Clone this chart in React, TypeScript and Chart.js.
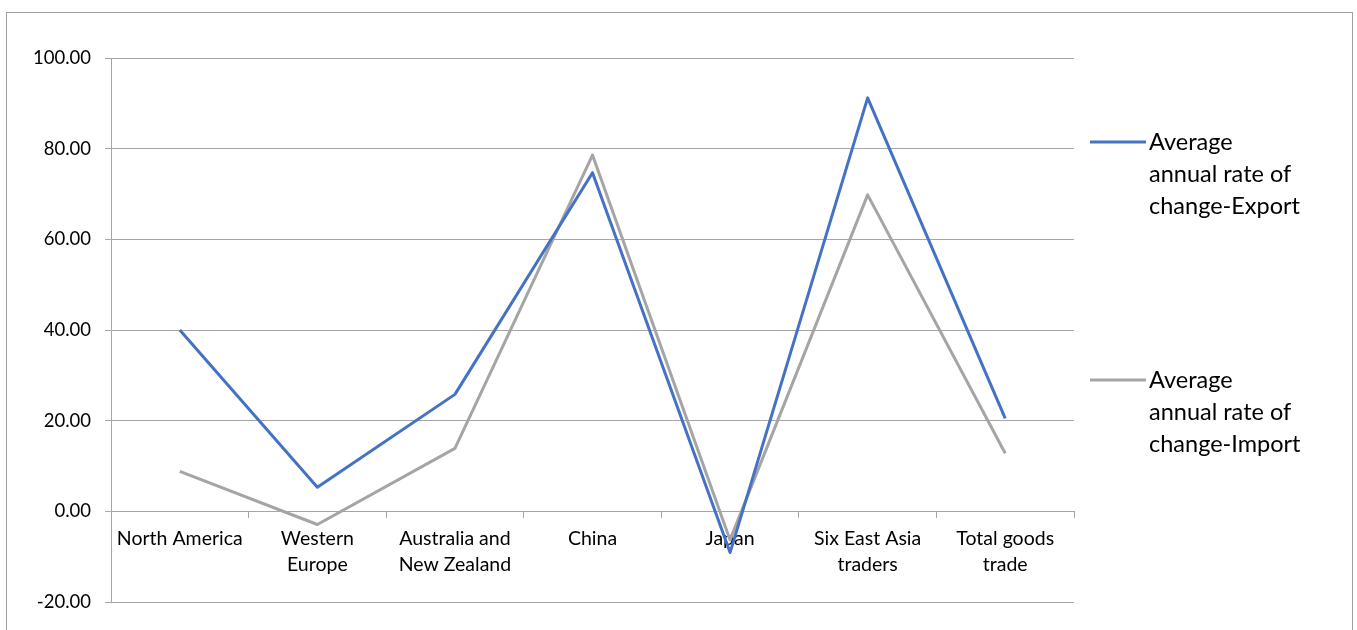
import React, { useEffect, useRef } from "react";
import { Chart, registerables } from "chart.js";

Chart.register(...registerables);

// Regions along the category axis (multi-line labels as arrays)
const regions: (string | string[])[] = [
  "North America",
  ["Western", "Europe"],
  ["Australia and", "New Zealand"],
  "China",
  "Japan",
  ["Six East Asia", "traders"],
  ["Total goods", "trade"],
];

// Average annual rate of change, per cent
const exportChange = [40.0, 5.3, 25.8, 74.7, -9.1, 91.2, 20.5];
const importChange = [8.8, -2.9, 13.9, 78.6, -6.3, 69.8, 12.8];

const seriesNames = [
  ["Average", "annual rate of", "change-Export"],
  ["Average", "annual rate of", "change-Import"],
];

const yTicks = { min: -20, max: 100, step: 20 };

const BLUE = "#4472C4";
const GREY = "#A5A5A5";
const GRID = "#A6A6A6";
const FONT = "Lato, 'Open Sans', sans-serif";

// Outer frame and a right-side legend with wrapped series names
const framePlugin = {
  id: "frameAndLegend",
  afterDraw(chart: Chart) {
    const { ctx } = chart;
    ctx.save();
    ctx.strokeStyle = "#A0A0A0";
    ctx.lineWidth = 1;
    ctx.strokeRect(6.5, 12.5, 1346, 700);

    const tops = [142, 380];
    chart.data.datasets.forEach((ds: any, i: number) => {
      const y0 = tops[i];
      ctx.strokeStyle = ds.borderColor;
      ctx.lineWidth = 3;
      ctx.lineCap = "butt";
      ctx.beginPath();
      ctx.moveTo(1090, y0);
      ctx.lineTo(1146, y0);
      ctx.stroke();
      ctx.fillStyle = "#000";
      ctx.font = `23.5px ${FONT}`;
      ctx.textBaseline = "middle";
      ctx.textAlign = "left";
      seriesNames[i].forEach((line, j) => {
        ctx.fillText(line, 1149, y0 + j * 32);
      });
    });
    ctx.restore();
  },
};

export default function App() {
  const canvasRef = useRef<HTMLCanvasElement | null>(null);

  useEffect(() => {
    const canvas = canvasRef.current;
    if (!canvas) return;
    const chart = new Chart(canvas, {
      type: "line",
      data: {
        labels: regions,
        datasets: [
          {
            label: seriesNames[0].join(" "),
            data: exportChange,
            borderColor: BLUE,
            backgroundColor: BLUE,
            borderWidth: 3,
            pointRadius: 0,
            tension: 0,
            borderJoinStyle: "round",
          },
          {
            label: seriesNames[1].join(" "),
            data: importChange,
            borderColor: GREY,
            backgroundColor: GREY,
            borderWidth: 3,
            pointRadius: 0,
            tension: 0,
            borderJoinStyle: "round",
          },
        ],
      },
      options: {
        responsive: false,
        animation: false,
        layout: { padding: { left: 0, top: 58, right: 283, bottom: 28 } },
        plugins: {
          legend: { display: false },
          tooltip: { enabled: false },
        },
        scales: {
          x: {
            type: "category",
            offset: true,
            position: { y: 0 },
            grid: {
              offset: true,
              drawOnChartArea: false,
              drawTicks: true,
              tickLength: 6,
              color: GRID,
            },
            border: { display: true, color: GRID },
            ticks: {
              color: "#000",
              font: { family: FONT, size: 19.5, lineHeight: 1.33 },
              padding: 8,
              maxRotation: 0,
              autoSkip: false,
            },
          },
          y: {
            min: yTicks.min,
            max: yTicks.max,
            afterFit(scale: any) {
              scale.width = 111;
            },
            grid: {
              color: GRID,
              drawTicks: true,
              tickLength: 6,
            },
            border: { display: true, color: GRID },
            ticks: {
              stepSize: yTicks.step,
              color: "#000",
              font: { family: FONT, size: 18.5 },
              padding: 14,
              callback: (v: any) => Number(v).toFixed(2),
            },
          },
        },
      },
      plugins: [framePlugin],
    });
    return () => chart.destroy();
  }, []);

  return (
    <div style={{ position: "absolute", left: 0, top: 0, width: 1357, height: 630, background: "#fff" }}>
      <canvas ref={canvasRef} width={1357} height={630} />
    </div>
  );
}
